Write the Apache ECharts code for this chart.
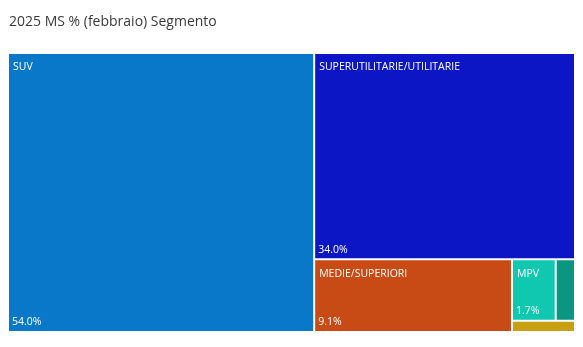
<!DOCTYPE html>
<html>
<head>
<meta charset="utf-8">
<script src="https://cdn.jsdelivr.net/npm/echarts@6/dist/echarts.min.js"></script>
<style>
html,body{margin:0;padding:0;background:#fff;}
#c{width:583px;height:347px;}
</style>
</head>
<body>
<div id="c"></div>
<script>
const categories = ['SUV', 'SUPERUTILITARIE/UTILITARIE', 'MEDIE/SUPERIORI', 'MPV', 'SPORTIVE', 'ALTRO'];
const values = [54.0, 34.0, 9.1, 1.7, 0.75, 0.45];
const colors = ['#0a78c8', '#0c16c4', '#c84a14', '#10c8b0', '#0a9680', '#c8a012'];
const showLabel = [true, true, true, true, false, false];

const chart = echarts.init(document.getElementById('c'));
const font = '"Segoe UI", "Open Sans", "Noto Sans", sans-serif';

function makeData(kind) {
  return categories.map((n, i) => ({
    name: n,
    value: values[i],
    itemStyle: kind === 'name' ? { color: colors[i] } : { color: 'rgba(0,0,0,0)' },
    label: { show: showLabel[i] }
  }));
}

function makeSeries(kind) {
  return {
    type: 'treemap',
    left: 9, top: 54, right: 9, bottom: 16,
    roam: false,
    nodeClick: false,
    breadcrumb: { show: false },
    squareRatio: 0.5 * (1 + Math.sqrt(5)),
    silent: kind !== 'name',
    itemStyle: { borderWidth: 0, gapWidth: 2, borderColor: '#fff' },
    levels: [{ itemStyle: { borderWidth: 0, gapWidth: 2 } }],
    label: {
      show: true,
      position: kind === 'name' ? 'insideTopLeft' : 'insideBottomLeft',
      distance: kind === 'name' ? 4 : 3,
      padding: kind === 'name' ? [4, 0, 0, 0] : [0, 0, 0, 0],
      color: '#fff',
      fontSize: 10.5,
      fontWeight: 500,
      fontFamily: font,
      formatter: kind === 'name' ? '{b}' : (p) => p.value.toFixed(1) + '%'
    },
    emphasis: { disabled: true },
    data: makeData(kind)
  };
}

chart.setOption({
  animation: false,
  title: {
    text: '2025 MS % (febbraio) Segmento',
    left: 4, top: 10,
    textStyle: { fontSize: 14, fontWeight: 'normal', color: '#3a3a3a', fontFamily: font }
  },
  tooltip: { show: false },
  series: [makeSeries('name'), makeSeries('value')]
});
</script>
</body>
</html>
